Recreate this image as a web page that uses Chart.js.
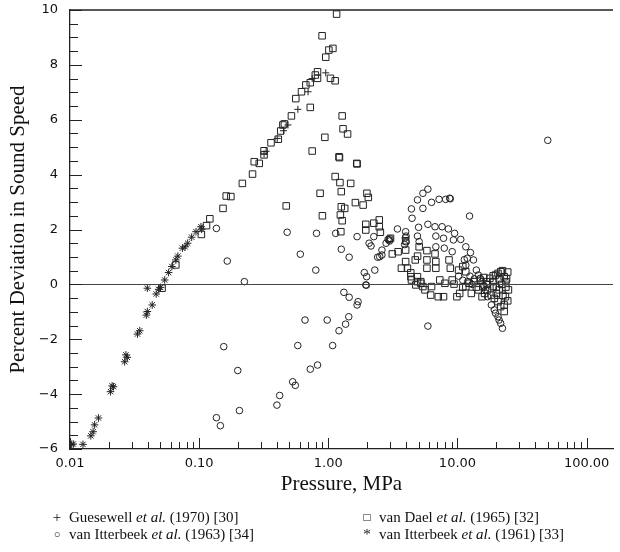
<!DOCTYPE html>
<html>
<head>
<meta charset="utf-8">
<script src="https://cdn.jsdelivr.net/npm/chart.js@4"></script>
<style>
  body { margin: 0; background: #fff; }
  #wrap { position: relative; width: 620px; height: 552px; }
  .leg { position: absolute; font: 15px "Liberation Serif", serif; color: #111; white-space: nowrap; }
  .leg i { font-style: italic; }
  .mk { position: absolute; width: 14px; text-align: center; }
</style>
</head>
<body>
<div id="wrap">
  <canvas id="grafico" width="620" height="552"></canvas>
  <div class="leg" style="left:50px; top:509px;"><span class="mk" style="left:0">+</span><span style="margin-left:19px">Guesewell <i>et al.</i> (1970) [30]</span></div>
  <div class="leg" style="left:50px; top:526px;"><span class="mk" style="left:0; font-size:11px; top:2px">○</span><span style="margin-left:19px">van Itterbeek <i>et al.</i> (1963) [34]</span></div>
  <div class="leg" style="left:360px; top:509px;"><span class="mk" style="left:0; font-size:12px; top:1px">□</span><span style="margin-left:19px">van Dael <i>et al.</i> (1965) [32]</span></div>
  <div class="leg" style="left:360px; top:526px;"><span class="mk" style="left:0">*</span><span style="margin-left:19px">van Itterbeek <i>et al.</i> (1961) [33]</span></div>
</div>
<script>
// Guesewell et al. (1970) [30]  (+)
const guesP = [0.318, 0.33, 0.402, 0.45, 0.487, 0.581, 0.697, 0.75, 0.955];
const guesD = [4.75, 4.85, 5.32, 5.6, 5.81, 6.38, 7.02, 7.5, 7.71];

// van Itterbeek et al. (1961) [33]  (*)
const itt61P = [0.0103, 0.0106, 0.0126, 0.0145, 0.0151, 0.0155, 0.0166, 0.0206, 0.0212, 0.0217,
  0.0265, 0.0271, 0.0278, 0.0333, 0.0347, 0.039, 0.0397, 0.0397, 0.0433, 0.0465, 0.0486, 0.0502,
  0.0541, 0.058, 0.0615, 0.066, 0.0684, 0.0742, 0.0778, 0.0815, 0.0875, 0.0945, 0.1033, 0.1045];
const itt61D = [-5.83, -5.82, -5.83, -5.52, -5.37, -5.12, -4.87, -3.91, -3.70, -3.73,
  -2.82, -2.57, -2.66, -1.81, -1.69, -1.12, -0.99, -0.14, -0.75, -0.35, -0.18, -0.11,
  0.16, 0.43, 0.65, 0.89, 1.03, 1.32, 1.37, 1.50, 1.72, 1.92, 2.10, 2.01];

// van Dael et al. (1965) [32]  (squares)
const daelP = [0.0516, 0.066, 0.104, 0.114, 0.121, 0.153, 0.162, 0.176, 0.216, 0.259, 0.267, 0.292,
  0.318, 0.318, 0.36, 0.41, 0.428, 0.445, 0.457, 0.518, 0.56, 0.62, 0.67, 0.725, 0.793, 0.825, 0.825,
  0.895, 0.955, 1.01, 1.085, 1.039, 1.13, 1.159,
  0.472, 0.725, 0.75, 0.864, 0.9, 0.94, 1.13, 1.21, 1.22, 1.23, 1.24, 1.25, 1.26, 1.26, 1.28, 1.28,
  1.30, 1.34, 1.41, 1.49, 1.62, 1.66, 1.67, 1.86, 1.95, 1.95, 1.99, 2.04, 2.25, 2.48, 2.48, 2.53,
  3.03, 3.13, 3.47, 3.97, 3.97, 3.97, 3.68, 4.36, 4.71, 4.91, 5.05, 5.8, 5.8, 5.8, 6.7, 6.8, 6.8,
  7.3, 4.9, 5.2, 4.76, 5.6, 6.2, 7.1, 7.8, 8.8, 8.6, 9.1, 9.4, 9.9, 10.4, 11.0, 11.6, 12.3, 12.8,
  11.6, 11.0, 10.2, 4.1, 4.35, 4.4, 4.9, 5.2, 5.4, 6.3, 8.0,
  14.5, 15.8, 16.7, 17.8, 18.9, 19.7, 20.6, 21.6, 22.3, 23, 23.7, 23.7, 23.5, 23, 23, 21.6, 20.6,
  19.3, 18.3, 20, 21, 17.1, 18.9, 16.2, 15.5, 24.5, 24, 24.8, 24.5, 13.5, 14, 15, 16, 17, 19, 20,
  22, 21, 22.5];
const daelD = [-0.14, 0.71, 1.82, 2.14, 2.39, 2.77, 3.22, 3.20, 3.68, 4.02, 4.47, 4.41,
  4.87, 4.72, 5.16, 5.29, 5.59, 5.81, 5.85, 6.14, 6.77, 7.02, 7.27, 7.35, 7.63, 7.75, 7.51,
  9.06, 8.28, 8.54, 8.60, 7.51, 7.42, 9.85,
  2.86, 6.45, 4.86, 3.32, 2.50, 5.36, 3.93, 4.65, 4.62, 3.71, 2.53, 1.92, 3.38, 2.83, 6.14, 2.32,
  5.67, 2.77, 5.48, 3.68, 2.98, 4.41, 4.39, 2.89, 2.19, 1.98, 3.32, 3.17, 2.23, 2.35, 2.10, 1.90,
  1.68, 1.11, 1.19, 1.59, 1.25, 0.83, 0.59, 0.28, 0.89, 1.03, 1.37, 1.23, 0.89, 0.59, 1.11, 0.83, 0.59,
  0.16, 0.10, 0.10, -0.02, -0.20, -0.39, -0.45, -0.45, 0.59, 0.89, 0.16, 0.01, -0.45, -0.33, -0.10, -0.08, 0.04, -0.33,
  0.46, 0.65, 0.52, 0.59, 0.42, 0.16, 0.28, 0.04, -0.08, -0.08, 0.04,
  -0.20, -0.08, 0.10, 0.22, 0.31, 0.34, 0.40, 0.46, 0.50, 0.28, 0.10, -0.10, -0.45, -0.75, -0.99, -0.81, -0.63,
  -0.51, -0.39, -0.33, -0.20, -0.20, -0.08, -0.33, -0.45, 0.45, 0.20, -0.20, -0.60, 0.10, -0.10, 0.15, 0.25, 0.00, 0.10, -0.10,
  0.00, 0.20, -0.40];

// van Itterbeek et al. (1963) [34]  (circles)
const itt63P = [0.136, 0.165, 0.224, 0.155, 0.199, 0.205, 0.136, 0.146, 0.40, 0.42, 0.53, 0.555,
  0.48, 0.607, 0.58, 0.66, 0.725, 0.81, 0.80, 0.825, 0.98, 1.08, 1.14, 1.21, 1.26, 1.32, 1.36, 1.44,
  1.45, 1.45, 1.67, 1.67, 1.70, 1.90, 1.98, 1.95, 1.97, 2.07, 2.14, 2.25, 2.29, 2.41, 2.5, 2.6, 2.6,
  2.8, 2.9, 2.95, 2.98, 3.0, 3.43, 3.97, 4.0, 4.0, 3.9, 3.95, 4.4, 4.45, 4.9, 4.9, 5.0, 5.05, 5.4, 5.4,
  5.9, 5.9, 5.9, 6.3, 6.7, 6.8, 6.8, 7.2, 7.6, 7.8, 7.9, 8.1, 8.5, 8.7, 8.8, 9.1, 9.3, 9.5, 10.6,
  11.6, 11.9, 11.3, 11.6, 12.4, 12.6, 13.3, 14.0, 14.5, 15.0, 15.5, 16.0, 17.1, 16.5, 18.3, 19.3,
  19.7, 20.6, 21.0, 21.6, 22.3, 10.2, 11.0, 12.0, 13.0, 12.5, 13.5, 50];
const itt63D = [2.04, 0.85, 0.10, -2.27, -3.14, -4.60, -4.86, -5.15, -4.40, -4.05, -3.55, -3.68,
  1.90, 1.10, -2.23, -1.30, -3.09, 1.86, 0.52, -2.94, -1.30, -2.23, 1.86, -1.69, 1.28, -0.29, -1.45, -1.18,
  0.99, -0.47, 1.74, -0.75, -0.63, 0.43, 0.28, -0.02, -0.03, 1.50, 1.40, 1.74, 0.52, 0.99, 1.01, 1.07, 1.25,
  1.50, 1.64, 1.62, 1.58, 1.66, 2.02, 1.92, 1.76, 1.55, 1.45, 1.70, 2.75, 2.41, 3.08, 1.76, 2.08, 1.56, 3.32, 2.77,
  3.47, 2.19, -1.52, 2.99, 2.10, 1.76, 1.37, 3.10, 2.10, 1.68, 1.32, 3.10, 2.02, 3.14, 3.12, 1.19, 1.62, 1.86, 1.64,
  1.37, 0.95, 0.90, 0.70, 2.49, 1.16, 0.89, 0.52, 0.34, 0.22, 0.10, -0.05, -0.45, -0.20, -0.75, -0.93,
  -1.05, -1.18, -1.30, -1.42, -1.60, 0.30, 0.15, 0.10, 0.00, 0.30, 0.20, 5.25];

// y tick labels use a real minus sign
const yTickLabel = v => (v < 0 ? '\u2212' + Math.abs(v) : String(v));

const pts = (xs, ys) => xs.map((p, i) => ({ x: p, y: ys[i] }));

// inward tick marks, top frame line and the zero line
const inwardTicks = {
  id: 'inwardTicks',
  afterDraw(chart) {
    const { ctx, chartArea: a, scales: { x, y } } = chart;
    ctx.save();
    ctx.strokeStyle = '#222';
    ctx.lineWidth = 1.3;
    ctx.beginPath();
    ctx.moveTo(a.left, a.top);
    ctx.lineTo(a.right, a.top);
    ctx.stroke();
    ctx.lineWidth = 1;
    ctx.strokeStyle = '#444';
    const y0 = Math.round(y.getPixelForValue(0)) + 0.5;
    ctx.beginPath();
    ctx.moveTo(a.left, y0);
    ctx.lineTo(a.right, y0);
    ctx.stroke();

    ctx.strokeStyle = '#222';
    ctx.beginPath();
    for (let e = -2; e <= 2; e++) {
      for (let m = 1; m <= 9; m++) {
        const v = m * Math.pow(10, e);
        if (e === 2 && m > 1) break;
        const px = Math.round(x.getPixelForValue(v)) + 0.5;
        const len = m === 1 ? 11 : 7;
        ctx.moveTo(px, a.bottom);
        ctx.lineTo(px, a.bottom - len);
      }
    }
    for (let v = -6; v <= 10; v += 0.5) {
      const py = Math.round(y.getPixelForValue(v)) + 0.5;
      const len = v % 2 === 0 ? 12 : 8;
      ctx.moveTo(a.left, py);
      ctx.lineTo(a.left + len, py);
    }
    ctx.stroke();
    ctx.restore();
  }
};

const ctx = document.getElementById('grafico').getContext('2d');

new Chart(ctx, {
  type: 'scatter',
  data: {
    datasets: [
      {
        label: 'van Dael et al. (1965) [32]',
        data: pts(daelP, daelD),
        pointStyle: 'rect',
        pointRadius: 4.6,
        borderColor: '#222',
        backgroundColor: 'rgba(0,0,0,0)',
        borderWidth: 1
      },
      {
        label: 'van Itterbeek et al. (1963) [34]',
        data: pts(itt63P, itt63D),
        pointStyle: 'circle',
        pointRadius: 3.3,
        borderColor: '#222',
        backgroundColor: 'rgba(0,0,0,0)',
        borderWidth: 1
      },
      {
        label: 'Guesewell et al. (1970) [30]',
        data: pts(guesP, guesD),
        pointStyle: 'cross',
        pointRadius: 3.5,
        borderColor: '#222',
        borderWidth: 1
      },
      {
        label: 'van Itterbeek et al. (1961) [33]',
        data: pts(itt61P, itt61D),
        pointStyle: 'star',
        pointRadius: 3.8,
        borderColor: '#222',
        borderWidth: 1
      }
    ]
  },
  options: {
    responsive: false,
    animation: false,
    layout: { padding: { top: 10, left: 0, right: 0, bottom: 0 } },
    plugins: {
      legend: { display: false },
      tooltip: { enabled: false }
    },
    scales: {
      x: {
        type: 'logarithmic',
        min: 0.01,
        max: 160,
        afterFit: scale => { scale.height = 103; },
        grid: { display: false, drawTicks: false },
        border: { display: true, color: '#222', width: 1.3 },
        ticks: {
          autoSkip: false,
          maxRotation: 0,
          padding: 7,
          color: '#111',
          font: { family: 'DejaVu Sans', size: 13 },
          callback: value => {
            const l = Math.log10(value);
            return Math.abs(l - Math.round(l)) < 1e-9 && value <= 100 ? value.toFixed(2) : '';
          }
        },
        title: {
          display: true,
          text: 'Pressure, MPa',
          color: '#111',
          font: { family: 'Liberation Serif', size: 21 },
          padding: { bottom: 55 }
        }
      },
      y: {
        min: -6,
        max: 10,
        afterFit: scale => {
          scale.width = 70;
          scale.paddingTop = 0;
          scale.paddingBottom = 0;
        },
        grid: { display: false, drawTicks: false },
        border: { display: true, color: '#222', width: 1.3 },
        ticks: {
          stepSize: 2,
          padding: 12,
          color: '#111',
          font: { family: 'DejaVu Sans', size: 13 },
          callback: yTickLabel
        },
        title: {
          display: true,
          text: 'Percent Deviation in Sound Speed',
          color: '#111',
          font: { family: 'Liberation Serif', size: 21 },
          padding: { top: 6 }
        }
      }
    }
  },
  plugins: [inwardTicks]
});
</script>
</body>
</html>
